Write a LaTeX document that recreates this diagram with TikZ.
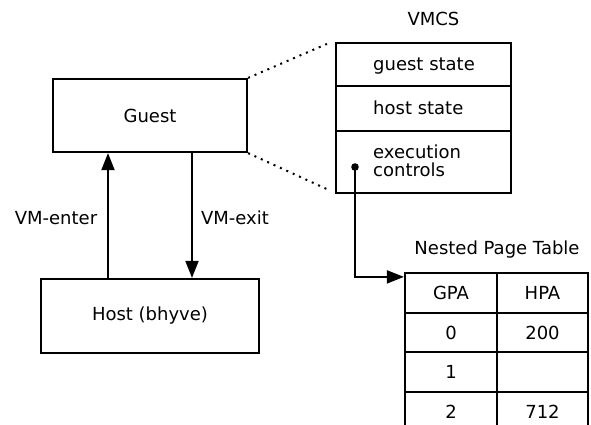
\documentclass[tikz,border=0pt]{standalone}
\usepackage{fontspec}
\setmainfont{DejaVu Sans}
\usetikzlibrary{arrows.meta,calc}
\begin{document}
\begin{tikzpicture}[x=1pt,y=-1pt,
  every node/.style={font=\fontsize{18}{18}\selectfont, inner sep=0pt},
  box/.style={draw, line width=2.2pt},
  txt/.style={anchor=base west},
  link/.style={line width=2pt, -{Triangle[length=17pt,width=13pt]}},
  zoomline/.style={line width=2pt, dash pattern=on 2pt off 5pt}]
\useasboundingbox (0,0) rectangle (591,424);

% guest and host
\node[box, minimum width=194pt, minimum height=73pt] (guest) at (150,115.5) {Guest};
\node[box, minimum width=218pt, minimum height=74pt] (host) at (150,316) {Host (bhyve)};
\coordinate (enterx) at (108,0);
\coordinate (exitx) at (192,0);
\draw[link] (host.north -| enterx) -- (guest.south -| enterx);
\draw[link] (guest.south -| exitx) -- (host.north -| exitx);
\node (enterlbl) at (56,218) {VM-enter};
\node (exitlbl) at (235,218) {VM-exit};

% VMCS
\node (vmcslbl) at (433.5,19) {VMCS};
\node[box, minimum width=175pt, minimum height=43pt] (gs) at (423.5,64.5) {};
\node[box, minimum width=175pt, minimum height=45pt] (hs) at (423.5,108.5) {};
\node[box, minimum width=175pt, minimum height=62pt] (ec) at (423.5,162) {};
\node[txt] (gstxt) at (373,70.5) {guest state};
\node[txt] (hstxt) at (373,114.5) {host state};
\node[txt, align=left, anchor=north west] (ectxt) at (373,145) {execution\\controls};

% zoom lines from the guest to the VMCS
\coordinate (ztop) at ($(gs.north west)+(-8,2)$);
\coordinate (zbot) at ($(ec.south west)+(-8,-5)$);
\draw[zoomline] (guest.north east) -- (ztop);
\draw[zoomline] (guest.south east) -- (zbot);

% nested page table
\node (nptlbl) at (497,250) {Nested Page Table};
\node[box, minimum width=92pt, minimum height=40pt] (c11) at (451,293) {GPA};
\node[box, minimum width=91pt, minimum height=40pt] (c12) at (542.5,293) {HPA};
\node[box, minimum width=92pt, minimum height=39pt] (c21) at (451,332.5) {0};
\node[box, minimum width=91pt, minimum height=39pt] (c22) at (542.5,332.5) {200};
\node[box, minimum width=92pt, minimum height=40pt] (c31) at (451,372) {1};
\node[box, minimum width=91pt, minimum height=40pt] (c32) at (542.5,372) {};
\node[box, minimum width=92pt, minimum height=40pt] (c41) at (451,412) {2};
\node[box, minimum width=91pt, minimum height=40pt] (c42) at (542.5,412) {712};

% pointer from execution controls to the table
\coordinate (ecdot) at (355,167);
\coordinate (nptin) at ($(c11.north west)+(0,5)$);
\fill (ecdot) circle (3.8pt);
\draw[link] (ecdot) |- (nptin);
\end{tikzpicture}
\end{document}
